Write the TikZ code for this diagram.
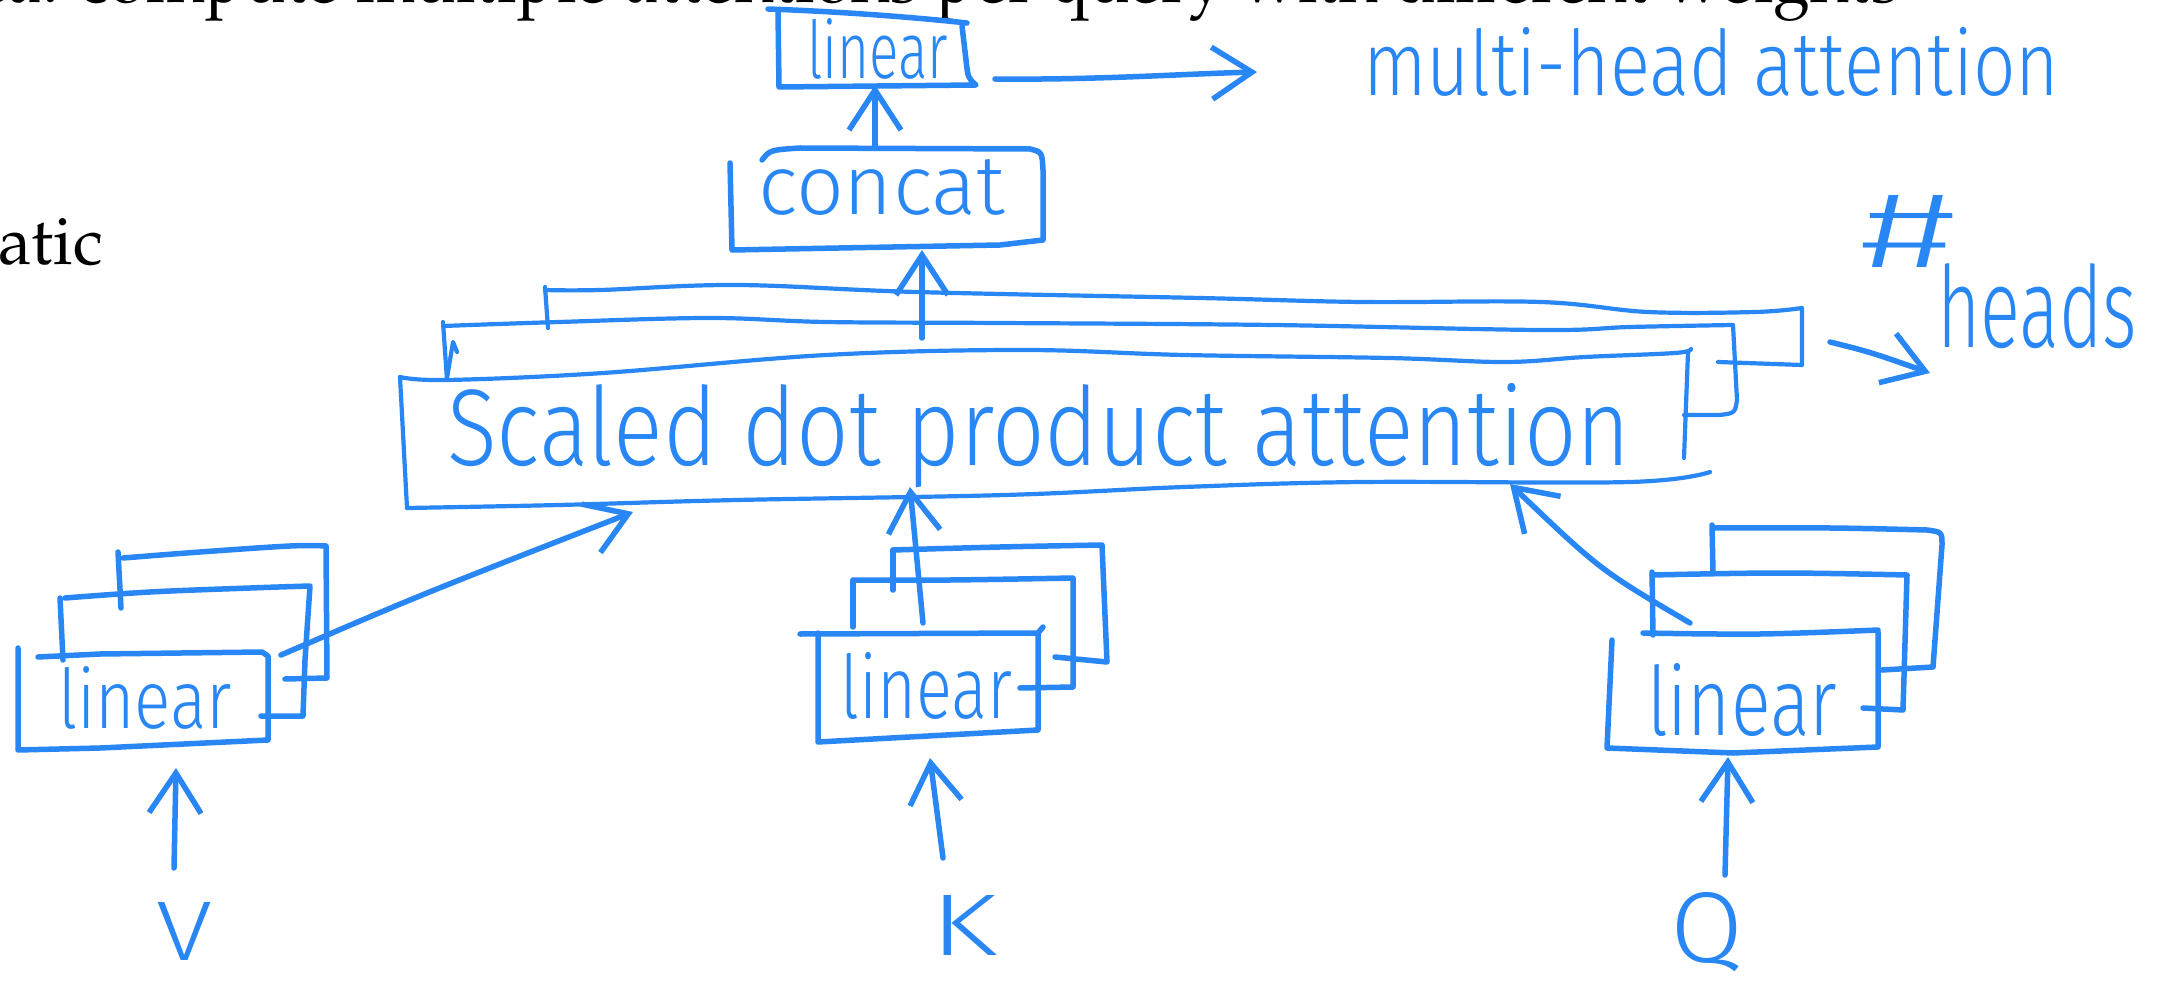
\documentclass[tikz,border=0pt]{standalone}
\usepackage[T1]{fontenc}
\usepackage{fontspec}
\usepackage{graphicx}
\usetikzlibrary{arrows.meta}
\definecolor{inkblue}{RGB}{40,135,245}
\newfontfamily\hwfont{Fira Sans Light}
\newcommand\serifdoc{\fontencoding{T1}\fontfamily{ppl}\selectfont}
% hand-lettered label: width, height above baseline, text
\newcommand\hw[3]{\resizebox{#1pt}{#2pt}{\hwfont #3}}

\tikzset{
  ink/.style={draw=inkblue, line width=5.5pt, line cap=round, line join=round},
  fine/.style={ink, line width=4.2pt},
  barb/.style={-{Straight Barb[length=40pt,width=52pt]}},
  hwtext/.style={text=inkblue, inner sep=0pt, outer sep=0pt, anchor=base west},
  doctext/.style={text=black, inner sep=0pt, outer sep=0pt, anchor=base east,
                  font=\serifdoc\fontsize{67}{74}\selectfont},
}

\begin{document}
\begin{tikzpicture}[x=1pt,y=-1pt]
\useasboundingbox (0,0) rectangle (2161,984);
\fill[white] (0,0) rectangle (2161,984);

% ---------- printed text of the page ----------
\node[doctext] (idea) at (1900,3) {ea: compute multiple attentions per query with different weights};
\node[doctext] (atic) at (103,265) {atic};

% ---------- output linear ----------
\draw[ink] (768,9) .. controls (850,12) and (920,18) .. (967,23);
\draw[ink] (778,12) -- (779,87) -- (976,85) .. controls (968,78) .. (966,60) -- (962,26);
\node[hwtext] (lin0) at (807,79) {\hw{141}{60}{linear}};

\coordinate (lin0out) at (995,79);
\coordinate (mhaIn) at (1257,72);
\draw[ink,barb] (lin0out) .. controls (1100,80) and (1180,74) .. (mhaIn);
\node[hwtext] (mha) at (1363,96) {\hw{696}{68}{multi-head attention}};

% ---------- concat ----------
\draw[ink] (730,163) -- (732,250) -- (1000,245) -- (1043,240) -- (1043,170)
           .. controls (1042,152) .. (1030,149) -- (800,148) .. controls (770,150) .. (762,160);
\node[hwtext] (concat) at (758,215) {\hw{247}{55}{concat}};

\coordinate (concatTop) at (875,147);
\coordinate (lin0Bot) at (875,85);
\draw[ink,barb] (concatTop) -- (lin0Bot);

% ---------- scaled dot product attention, stacked heads ----------
% back head
\draw[fine] (545,287) -- (548,328);
\draw[fine] plot[smooth,tension=0.6] coordinates {(545,290) (600,290) (737,285) (916,292)
  (1200,298) (1362,302) (1541,302) (1648,312) (1755,312) (1802,308)}
  -- (1802,365) -- (1718,362);
% middle head
\draw[fine] (443,322) -- (447,380);
\draw[fine] (447,378) -- (453,342) -- (457,352);
\draw[fine] plot[smooth,tension=0.6] coordinates {(443,326) (559,322) (710,318) (826,322)
  (1000,323) (1273,325) (1541,330) (1630,327) (1733,325)}
  -- (1737,400) .. controls (1735,413) .. (1720,415) -- (1684,415);
% front head
\draw[fine] (400,377) -- (407,508);
\draw[fine] plot[smooth,tension=0.6] coordinates {(400,377) (447,380) (603,373) (826,355)
  (1023,350) (1184,355) (1389,358) (1505,362) (1585,357) (1675,353) (1691,349)};
\draw[fine] (1688,352) -- (1684,458);
\draw[fine] plot[smooth,tension=0.6] coordinates {(1710,472) (1630,482) (1362,482)
  (1184,487) (1005,495) (737,500) (559,505) (407,508)};
\node[hwtext] (sdpa) at (447,465) {\hw{1183}{82}{Scaled dot product attention}};

\coordinate (sdpaTop) at (922,338);
\coordinate (concatBot) at (922,250);
\draw[ink,barb] (sdpaTop) -- (concatBot);

% number of heads
\coordinate (headsFrom) at (1830,342);
\coordinate (headsTo) at (1930,373);
\draw[ink,barb] (headsFrom) .. controls (1870,352) .. (headsTo);
\node[hwtext] (hash) at (1860,268) {\hw{95}{72}{\#}};
\node[hwtext] (heads) at (1937,347) {\hw{200}{84}{heads}};

% ---------- V projections ----------
\draw[ink] (118,552) -- (121,608);
\draw[ink] plot[smooth,tension=0.6] coordinates {(123,558) (200,552) (290,546) (326,546)}
  -- (327,678) -- (285,679);
\draw[ink] (60,598) -- (63,660);
\draw[ink] plot[smooth,tension=0.6] coordinates {(65,598) (150,592) (250,588) (310,586)}
  -- (305,660) -- (303,716) -- (261,716);
\draw[ink] (18,648) -- (18,750) -- (100,748) -- (268,740) -- (268,656) -- (262,652)
  -- (100,654) -- (38,657);
\node[hwtext] (linV) at (58,728) {\hw{174}{62}{linear}};

\coordinate (linVout) at (281,655);
\coordinate (sdpaV) at (633,512);
\draw[ink,barb] (linVout) .. controls (420,595) .. (sdpaV);
\coordinate (vIn) at (174,868);
\coordinate (linVBot) at (176,768);
\draw[ink,barb] (vIn) -- (linVBot);
\node[hwtext] (V) at (156,960) {\hw{56}{58}{V}};

% ---------- K projections ----------
\draw[ink] (893,550) -- (893,590);
\draw[ink] plot[smooth,tension=0.6] coordinates {(893,550) (1000,547) (1102,545)}
  -- (1107,662) -- (1055,657);
\draw[ink] (853,580) -- (853,627);
\draw[ink] plot[smooth,tension=0.6] coordinates {(855,580) (950,580) (1073,578)}
  -- (1073,687) -- (1020,688);
\draw[ink] (818,633) -- (818,742) -- (1038,730) -- (1038,633) -- (1043,627);
\draw[ink] (800,634) -- (1037,633);
\node[hwtext] (linK) at (840,718) {\hw{172}{66}{linear}};

\coordinate (linKout) at (923,623);
\coordinate (sdpaK) at (910,487);
\draw[ink,barb] (linKout) -- (sdpaK);
\coordinate (kIn) at (943,858);
\coordinate (linKBot) at (930,758);
\draw[ink,barb] (kIn) -- (linKBot);
\node[hwtext] (K) at (930,955) {\hw{67}{60}{K}};

% ---------- Q projections ----------
\draw[ink] (1712,525) -- (1713,573);
\draw[ink] plot[smooth,tension=0.6] coordinates {(1713,528) (1830,528) (1927,530)}
  .. controls (1942,532) .. (1942,545) -- (1933,667) -- (1882,670);
\draw[ink] (1652,572) -- (1653,635);
\draw[ink] plot[smooth,tension=0.6] coordinates {(1652,575) (1780,573) (1907,575)}
  -- (1903,710) -- (1863,708);
\draw[ink] (1612,640) -- (1607,748) -- (1733,753) -- (1878,747) -- (1878,632);
\draw[ink] plot[smooth,tension=0.6] coordinates {(1643,633) (1760,634) (1878,630)};
\node[hwtext] (linQ) at (1647,735) {\hw{190}{72}{linear}};

\coordinate (linQout) at (1690,623);
\coordinate (sdpaQ) at (1510,484);
\draw[ink,barb] (linQout) .. controls (1600,570) .. (sdpaQ);
\coordinate (qIn) at (1725,875);
\coordinate (linQBot) at (1728,757);
\draw[ink,barb] (qIn) -- (linQBot);
\node[hwtext] (Q) at (1670,962) {\hw{73}{70}{Q}};
\end{tikzpicture}
\end{document}
